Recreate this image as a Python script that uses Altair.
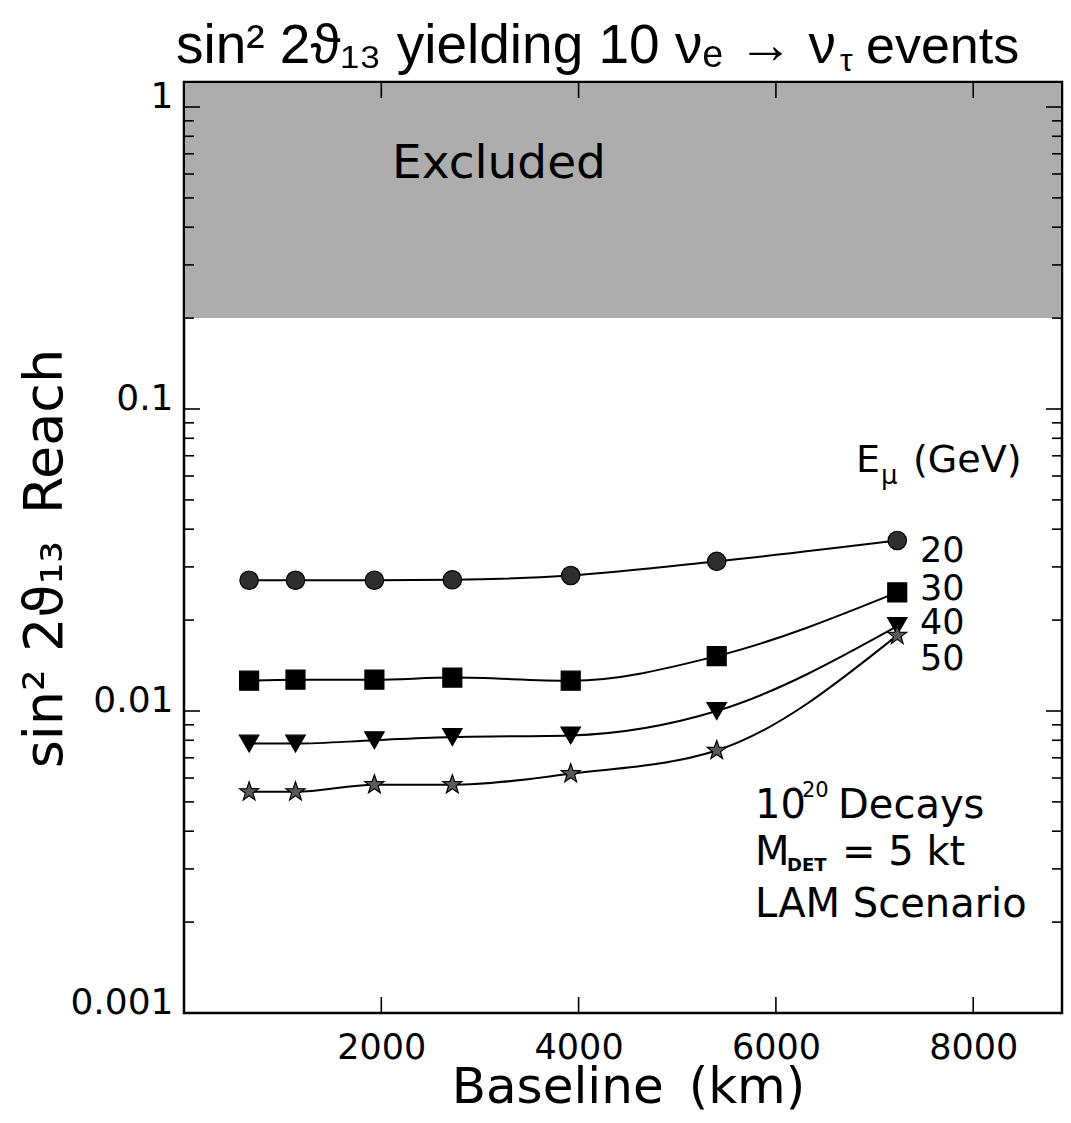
import altair as alt
import pandas as pd

# ---- values ----
BASELINE_KM = [660, 1130, 1930, 2720, 3920, 5400, 7230]
ENERGIES = ["20", "30", "40", "50"]
REACH_20 = [0.0271, 0.0271, 0.0271, 0.0272, 0.0281, 0.0313, 0.0367]
REACH_30 = [0.0126, 0.0127, 0.0127, 0.0129, 0.0126, 0.0152, 0.0247]
REACH_40 = [0.0078, 0.0078, 0.0080, 0.0082, 0.0083, 0.0100, 0.0191]
REACH_50 = [0.0054, 0.0054, 0.0057, 0.0057, 0.0062, 0.0074, 0.0178]
EXCLUDED_ABOVE = 0.2

X_TICKS = [2000, 4000, 6000, 8000]
Y_MAJOR = [0.001, 0.01, 0.1, 1]
Y_MINOR = [m * d for d in (0.001, 0.01, 0.1) for m in range(2, 10)]

X_DOMAIN = [0, 8900]
Y_DOMAIN = [0.001, 1.21]

# five-pointed star as a unit symbol path
STAR = ("M0,-1L0.235,-0.324L0.951,-0.309L0.380,0.124L0.588,0.809L0,0.4"
        "L-0.588,0.809L-0.380,0.124L-0.951,-0.309L-0.235,-0.324Z")

# ---- layout ----
LEFT, TOP = 184, 82
W, H = 878, 931
FONT = "DejaVu Sans"
TFONT = "Liberation Sans"

rows = []
for e, vals in zip(ENERGIES, [REACH_20, REACH_30, REACH_40, REACH_50]):
    for b, v in zip(BASELINE_KM, vals):
        rows.append({"x": b, "y": v, "E": e})
df = pd.DataFrame(rows)

xscale = alt.Scale(domain=X_DOMAIN, nice=False, zero=False)
yscale = alt.Scale(type="log", domain=Y_DOMAIN, nice=False)

xaxis = alt.Axis(
    values=X_TICKS, format="d", ticks=False, tickSize=0, domain=False, grid=False,
    labelFont=FONT, labelFontSize=35, labelPadding=17, labelColor="black",
    labelFlush=False, labelOverlap=False,
    title="Baseline\u2002(km)", titleFont=FONT, titleFontSize=50, titleFontWeight="normal",
    titleColor="black", titleX=444, titleY=89, titleAlign="center",
    titleBaseline="alphabetic",
)
yaxis = alt.Axis(
    values=Y_MAJOR, format="~g", ticks=False, tickSize=0, domain=False, grid=False,
    labelFont=FONT, labelFontSize=36, labelPadding=11, labelColor="black",
    labelBaseline="alphabetic", labelFlush=False, labelOverlap=False,
    title="sin² 2ϑ₁₃\u2002Reach", titleFont=FONT, titleFontSize=54, titleFontWeight="normal",
    titleColor="black", titleX=-139, titleY=476, titleAlign="center",
    titleBaseline="middle", titleAngle=270,
)


def X(field="x"):
    return alt.X(f"{field}:Q", scale=xscale, axis=xaxis)


def Y(field="y"):
    return alt.Y(f"{field}:Q", scale=yscale, axis=yaxis)


# excluded band
band = alt.Chart(pd.DataFrame({"y": [EXCLUDED_ABOVE]})).mark_rect(
    color="#adadad"
).encode(x=alt.value(1), x2=alt.value(W - 1), y=Y(), y2=alt.value(1))


# inward ticks on all four sides
def yticks(vals, length):
    d = pd.DataFrame({"y": vals})
    left = alt.Chart(d).mark_rule(color="black", strokeWidth=1.6).encode(
        y=Y(), x=alt.value(0), x2=alt.value(length))
    right = alt.Chart(d).mark_rule(color="black", strokeWidth=1.6).encode(
        y=Y(), x=alt.value(W - length), x2=alt.value(W))
    return [left, right]


xt = pd.DataFrame({"x": X_TICKS})
xticks_bottom = alt.Chart(xt).mark_rule(color="black", strokeWidth=1.6).encode(
    x=X(), y=alt.value(H), y2=alt.value(H - 16))
xticks_top = alt.Chart(xt).mark_rule(color="black", strokeWidth=1.6).encode(
    x=X(), y=alt.value(0), y2=alt.value(16))

lines = alt.Chart(df).mark_line(
    interpolate="monotone", color="black", strokeWidth=2
).encode(x=X(), y=Y(), detail="E:N")

points = alt.Chart(df).mark_point(filled=True, stroke="black", strokeWidth=1.2, opacity=1).encode(
    x=X(), y=Y(),
    shape=alt.Shape("E:N", scale=alt.Scale(domain=ENERGIES,
                    range=["circle", "square", "triangle-down", STAR]), legend=None),
    size=alt.Size("E:N", scale=alt.Scale(domain=ENERGIES, range=[340, 400, 380, 300]), legend=None),
    fill=alt.Fill("E:N", scale=alt.Scale(domain=ENERGIES,
                  range=["#2e2e2e", "#000000", "#000000", "#5a5a5a"]), legend=None),
)

one = pd.DataFrame({"k": [0]})


def text(s, x, y, size, align="left", font=FONT, weight="normal"):
    return alt.Chart(one).mark_text(
        text=s, align=align, baseline="alphabetic", font=font, fontSize=size,
        fontWeight=weight, color="black",
    ).encode(x=alt.value(x - LEFT), y=alt.value(y - TOP))


texts = [
    # title
    text("sin² 2ϑ₁₃ yielding 10 νₑ → ν", 836, 63, 55, align="right", font=TFONT),
    text("τ", 840, 71, 32, font=TFONT),
    text("events", 866, 63, 52, font=TFONT),
    # band label
    text("Excluded", 392, 178, 47),
    # series key
    text("E", 856, 472, 38),
    text("μ", 881, 484, 26),
    text("(GeV)", 913, 472, 38),
    text("20", 920, 562, 35),
    text("30", 920, 600, 35),
    text("40", 920, 634, 35),
    text("50", 920, 670, 35),
    # run conditions
    text("10", 755, 818, 40),
    text("20", 802, 797, 21),
    text("Decays", 838, 818, 40),
    text("M", 755, 865, 40),
    text("DET", 787, 871, 18, weight="bold"),
    text("= 5 kt", 842, 865, 40),
    text("LAM Scenario", 755, 917, 40),
]

layers = [band] + yticks(Y_MAJOR, 16) + yticks(Y_MINOR, 10) + [
    xticks_bottom, xticks_top, lines, points] + texts

chart = alt.layer(*layers).properties(
    width=W, height=H,
    autosize=alt.AutoSizeParams(type="none"),
    padding={"left": LEFT, "top": TOP, "right": 1071 - LEFT - W, "bottom": 1123 - TOP - H},
    background="white",
).configure_view(stroke="black", strokeWidth=2.5)

chart.save("out.html", embed_options={"renderer": "svg", "actions": False})
